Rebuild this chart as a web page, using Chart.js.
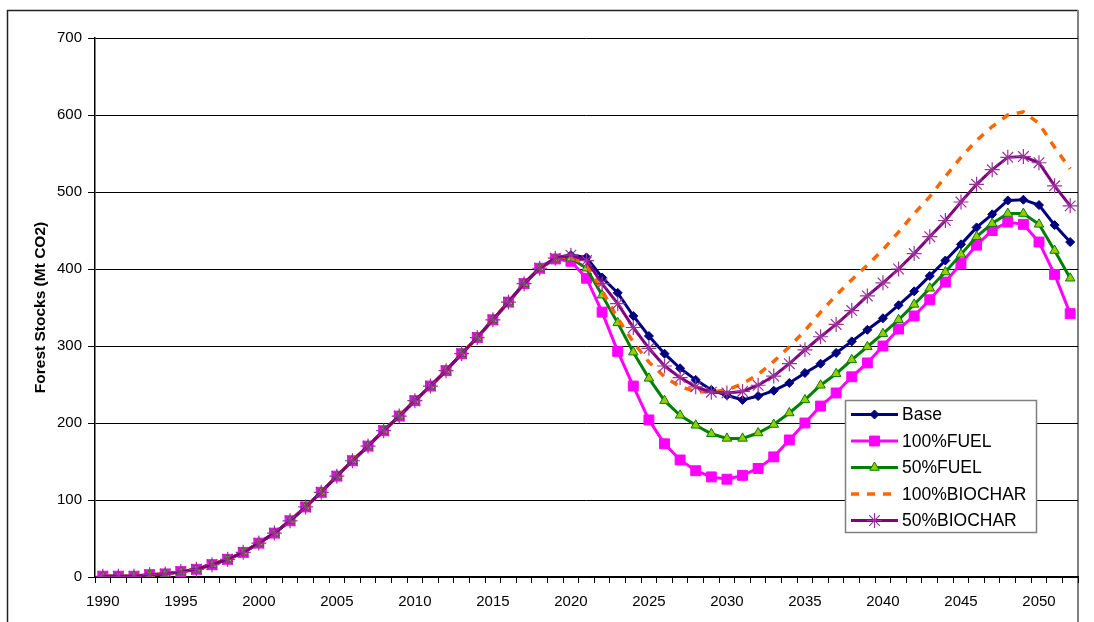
<!DOCTYPE html>
<html lang="en">
<head>
<meta charset="UTF-8">
<title>Forest Stocks</title>
<script src="https://cdn.jsdelivr.net/npm/chart.js"></script>
<style>
  body { margin: 0; background: #fff; }
  #wrap { width: 1094px; height: 622px; }
</style>
</head>
<body>
<div id="wrap"><canvas id="forestChart" width="1094" height="622"></canvas></div>
<script>
const years = [
  '1990','1991','1992','1993','1994','1995','1996','1997','1998','1999',
  '2000','2001','2002','2003','2004','2005','2006','2007','2008','2009',
  '2010','2011','2012','2013','2014','2015','2016','2017','2018','2019',
  '2020','2021','2022','2023','2024','2025','2026','2027','2028','2029',
  '2030','2031','2032','2033','2034','2035','2036','2037','2038','2039',
  '2040','2041','2042','2043','2044','2045','2046','2047','2048','2049',
  '2050','2051','2052'
];

const base = [
  1, 1, 1, 3, 4, 7, 10, 16, 23, 32,
  44, 57, 73, 91, 110, 131, 151, 170, 190, 209,
  229, 248, 268, 290, 311, 334, 357, 381, 401, 414,
  418, 415, 389, 369, 339, 313, 290, 271, 256, 243,
  236, 230, 235, 242, 252, 265, 277, 291, 306, 321,
  336, 353, 371, 391, 411, 432, 454, 471, 489, 490,
  483, 457, 435
];
const fuel100 = [
  1, 1, 1, 3, 4, 7, 10, 16, 23, 32,
  44, 57, 73, 91, 110, 131, 151, 170, 190, 209,
  229, 248, 268, 290, 311, 334, 357, 381, 401, 413,
  410, 388, 344, 293, 248, 204, 173, 152, 138, 130,
  127, 132, 141, 156, 178, 200, 222, 239, 260, 278,
  300, 322, 339, 360, 383, 407, 431, 450, 461, 458,
  435, 393, 342
];
const fuel50 = [
  1, 1, 1, 3, 4, 7, 10, 16, 23, 32,
  44, 57, 73, 91, 110, 131, 151, 170, 190, 209,
  229, 248, 268, 290, 311, 334, 357, 381, 401, 413,
  414, 401, 366, 330, 292, 258, 229, 210, 197, 186,
  180, 180, 187, 198, 213, 230, 249, 264, 282, 299,
  316, 334, 354, 375, 396, 419, 442, 459, 472, 472,
  458, 424, 388
];
const biochar100 = [
  1, 1, 1, 3, 4, 7, 10, 16, 23, 32,
  44, 57, 73, 91, 110, 131, 151, 170, 190, 209,
  229, 248, 268, 290, 311, 334, 357, 381, 401, 414,
  416, 405, 372, 336, 305, 279, 260, 247, 241, 240,
  243, 251, 263, 280, 299, 320, 344, 366, 386, 405,
  425, 448, 472, 494, 520, 545, 567, 585, 600, 604,
  589, 558, 530
];
const biochar50 = [
  1, 1, 1, 3, 4, 7, 10, 16, 23, 32,
  44, 57, 73, 91, 110, 131, 151, 170, 190, 209,
  229, 248, 268, 290, 311, 334, 357, 381, 401, 414,
  418, 411, 381, 355, 324, 297, 274, 259, 247, 240,
  239, 241, 249, 261, 277, 295, 312, 328, 346, 365,
  382, 400, 420, 442, 463, 487, 510, 529, 545, 546,
  538, 508, 482
];

const FONT = "'Liberation Sans', Arial, sans-serif";

// outer frame of the chart area (Excel style)
const frame = {
  id: 'frame',
  beforeDraw(chart) {
    const ctx = chart.ctx;
    ctx.save();
    ctx.fillStyle = '#fff';
    ctx.fillRect(0, 0, chart.width, chart.height);
    ctx.strokeStyle = '#222';
    ctx.lineWidth = 1.5;
    ctx.beginPath();
    ctx.moveTo(7.5, chart.height);
    ctx.lineTo(7.5, 10.5);
    ctx.lineTo(1078, 10.5);
    ctx.stroke();
    ctx.strokeStyle = '#808080';
    ctx.lineWidth = 2;
    ctx.beginPath();
    ctx.moveTo(1078, 10);
    ctx.lineTo(1078, chart.height);
    ctx.stroke();
    ctx.restore();
  }
};

// legend box inside the plot, lower right
const legendBox = {
  id: 'legendBox',
  afterDatasetsDraw(chart) {
    const ctx = chart.ctx;
    const x = 845.5, y = 400.5, w = 191, h = 132;
    ctx.save();
    ctx.fillStyle = '#fff';
    ctx.fillRect(x, y, w, h);
    ctx.strokeStyle = '#808080';
    ctx.lineWidth = 1.5;
    ctx.strokeRect(x, y, w, h);
    ctx.font = '17.5px ' + FONT;
    ctx.textBaseline = 'middle';
    chart.data.datasets.forEach((ds, i) => {
      const cy = y + 14 + i * 26.5;
      ctx.strokeStyle = ds.borderColor;
      ctx.lineWidth = ds.borderWidth;
      ctx.setLineDash(ds.borderDash || []);
      ctx.beginPath();
      ctx.moveTo(851, cy);
      ctx.lineTo(898, cy);
      ctx.stroke();
      ctx.setLineDash([]);
      if (ds.pointRadius > 0) {
        ctx.fillStyle = ds.pointBackgroundColor;
        ctx.strokeStyle = ds.pointBorderColor;
        ctx.lineWidth = ds.pointBorderWidth;
        Chart.helpers.drawPoint(ctx, {
          pointStyle: ds.pointStyle,
          radius: ds.pointRadius,
          rotation: 0,
          borderWidth: ds.pointBorderWidth
        }, 874.5, cy);
      }
      ctx.fillStyle = '#000';
      ctx.fillText(ds.label, 902, cy + 1);
    });
    ctx.restore();
  }
};

new Chart(document.getElementById('forestChart'), {
  type: 'line',
  data: {
    labels: years,
    datasets: [
      {
        label: 'Base', data: base, order: 5,
        borderColor: '#000080', borderWidth: 3,
        pointStyle: 'rectRot', pointRadius: 4.5,
        pointBackgroundColor: '#000080', pointBorderColor: '#000080', pointBorderWidth: 1
      },
      {
        label: '100%FUEL', data: fuel100, order: 4,
        borderColor: '#FF00FF', borderWidth: 3,
        pointStyle: 'rect', pointRadius: 7,
        pointBackgroundColor: '#FF00FF', pointBorderColor: '#FF00FF', pointBorderWidth: 1
      },
      {
        label: '50%FUEL', data: fuel50, order: 3,
        borderColor: '#008000', borderWidth: 3,
        pointStyle: 'triangle', pointRadius: 5.5,
        pointBackgroundColor: '#99CC00', pointBorderColor: '#008000', pointBorderWidth: 1
      },
      {
        label: '100%BIOCHAR', data: biochar100, order: 2,
        borderColor: '#FF6600', borderWidth: 3.5, borderDash: [8, 8],
        pointRadius: 0,
        pointBackgroundColor: '#FF6600', pointBorderColor: '#FF6600', pointBorderWidth: 0
      },
      {
        label: '50%BIOCHAR', data: biochar50, order: 1,
        borderColor: '#800080', borderWidth: 3,
        pointStyle: 'star', pointRadius: 7.5,
        pointBackgroundColor: '#993399', pointBorderColor: '#993399', pointBorderWidth: 1.2
      }
    ]
  },
  options: {
    responsive: false,
    animation: false,
    events: [],
    layout: { padding: { left: 28, top: 38, right: 16, bottom: 0 } },
    elements: { line: { tension: 0 } },
    plugins: {
      legend: { display: false },
      tooltip: { enabled: false }
    },
    scales: {
      x: {
        type: 'category',
        offset: true,
        afterFit(scale) { scale.height = 45; },
        grid: {
          offset: true,
          drawOnChartArea: false,
          drawTicks: true,
          tickLength: 6,
          color: '#000'
        },
        border: { display: true, color: '#000', width: 1.5 },
        ticks: {
          autoSkip: false,
          maxRotation: 0,
          minRotation: 0,
          padding: 10,
          color: '#000',
          font: { family: FONT, size: 15 },
          callback(value) {
            const y = this.getLabelForValue(value);
            return Number(y) % 5 === 0 ? y : '';
          }
        }
      },
      y: {
        min: 0,
        max: 700,
        afterFit(scale) { scale.width = 67; },
        grid: {
          color: '#000',
          lineWidth: 1,
          drawTicks: true,
          tickLength: 7
        },
        border: { display: true, color: '#000', width: 1.5 },
        ticks: {
          stepSize: 100,
          padding: 6,
          color: '#000',
          font: { family: FONT, size: 15 }
        },
        title: {
          display: true,
          text: 'Forest Stocks (Mt CO2)',
          color: '#000',
          padding: { top: 3, bottom: 0 },
          font: { family: FONT, size: 15.5, weight: 'bold' }
        }
      }
    }
  },
  plugins: [frame, legendBox]
});
</script>
</body>
</html>
